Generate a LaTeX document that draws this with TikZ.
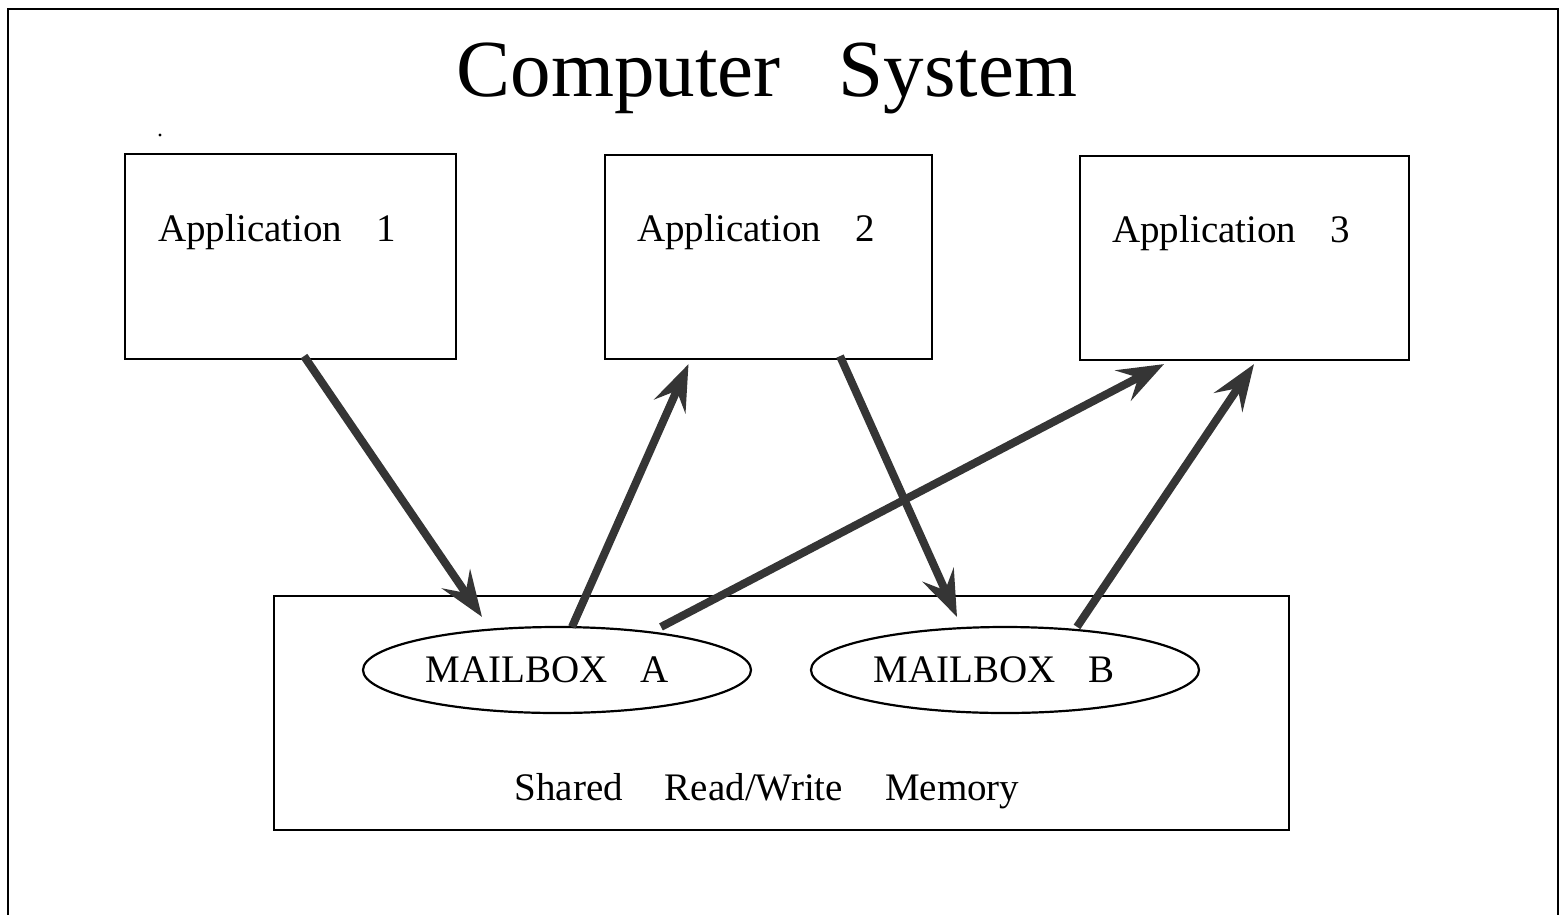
\documentclass[tikz,border=0pt]{standalone}
\usepackage{fontspec}
\setmainfont{Liberation Serif}
\usetikzlibrary{shapes.geometric,arrows.meta,calc}
\definecolor{arrowgray}{HTML}{353535}
\tikzset{
  appbox/.style={draw=black, line width=2.2pt, rectangle, inner sep=0pt},
  mailbox/.style={draw=black, line width=2.2pt, ellipse, inner sep=0pt, minimum width=388pt, minimum height=86pt, font=\fontsize{39}{41}\selectfont},
  lbl/.style={inner sep=0pt, font=\fontsize{39}{41}\selectfont},
  flow/.style={draw=arrowgray, line width=8pt, -{Stealth[length=46pt, width=34pt, inset=17pt]}},
}
\begin{document}
\begin{tikzpicture}[x=1pt, y=-1pt]
\useasboundingbox (0,0) rectangle (1564,914);
% outer frame
\draw[line width=2pt] (8,920) -- (8,9) -- (1558,9) -- (1558,920);
\node[inner sep=0pt, font=\fontsize{81}{84}\selectfont] (title) at (767,78) {Computer\hspace{58pt}System};
\fill (160,135) circle (1.6pt);
% application boxes
\node[appbox, minimum width=331pt, minimum height=205pt] (app1) at (290.5,256.5) {};
\node[appbox, minimum width=327pt, minimum height=204pt] (app2) at (768.5,257) {};
\node[appbox, minimum width=329pt, minimum height=204pt] (app3) at (1244.5,258) {};
\node[lbl, anchor=west] (l1) at (158,232) {Application\hspace{34pt}1};
\node[lbl, anchor=west] (l2) at (637,232) {Application\hspace{34pt}2};
\node[lbl, anchor=west] (l3) at (1112,233) {Application\hspace{34pt}3};
% shared memory
\node[appbox, minimum width=1015pt, minimum height=234pt] (mem) at (781.5,713) {};
\node[mailbox] (mbA) at (557,670) {MAILBOX\hspace{33pt}A\hspace*{20pt}};
\node[mailbox] (mbB) at (1005,670) {MAILBOX\hspace{33pt}B\hspace*{22pt}};
\node[lbl] (shared) at (767,791) {Shared\hspace{42pt}Read/Write\hspace{42pt}Memory};
% connectors
\draw[flow] ([xshift=13.5pt,yshift=4pt]app1.south) -- ([xshift=-75pt,yshift=9pt]mbA.north);
\draw[flow] ([xshift=15pt,yshift=-1pt]mbA.north) -- ([xshift=-80pt,yshift=-4pt]app2.south);
\draw[flow] ([xshift=71.5pt,yshift=4pt]app2.south) -- ([xshift=-48pt,yshift=9pt]mbB.north);
\draw[flow] ([xshift=104pt,yshift=-1pt]mbA.north) -- ([xshift=-80.5pt,yshift=-3pt]app3.south);
\draw[flow] ([xshift=72pt,yshift=-1pt]mbB.north) -- ([xshift=9.5pt,yshift=-3pt]app3.south);
\end{tikzpicture}
\end{document}
